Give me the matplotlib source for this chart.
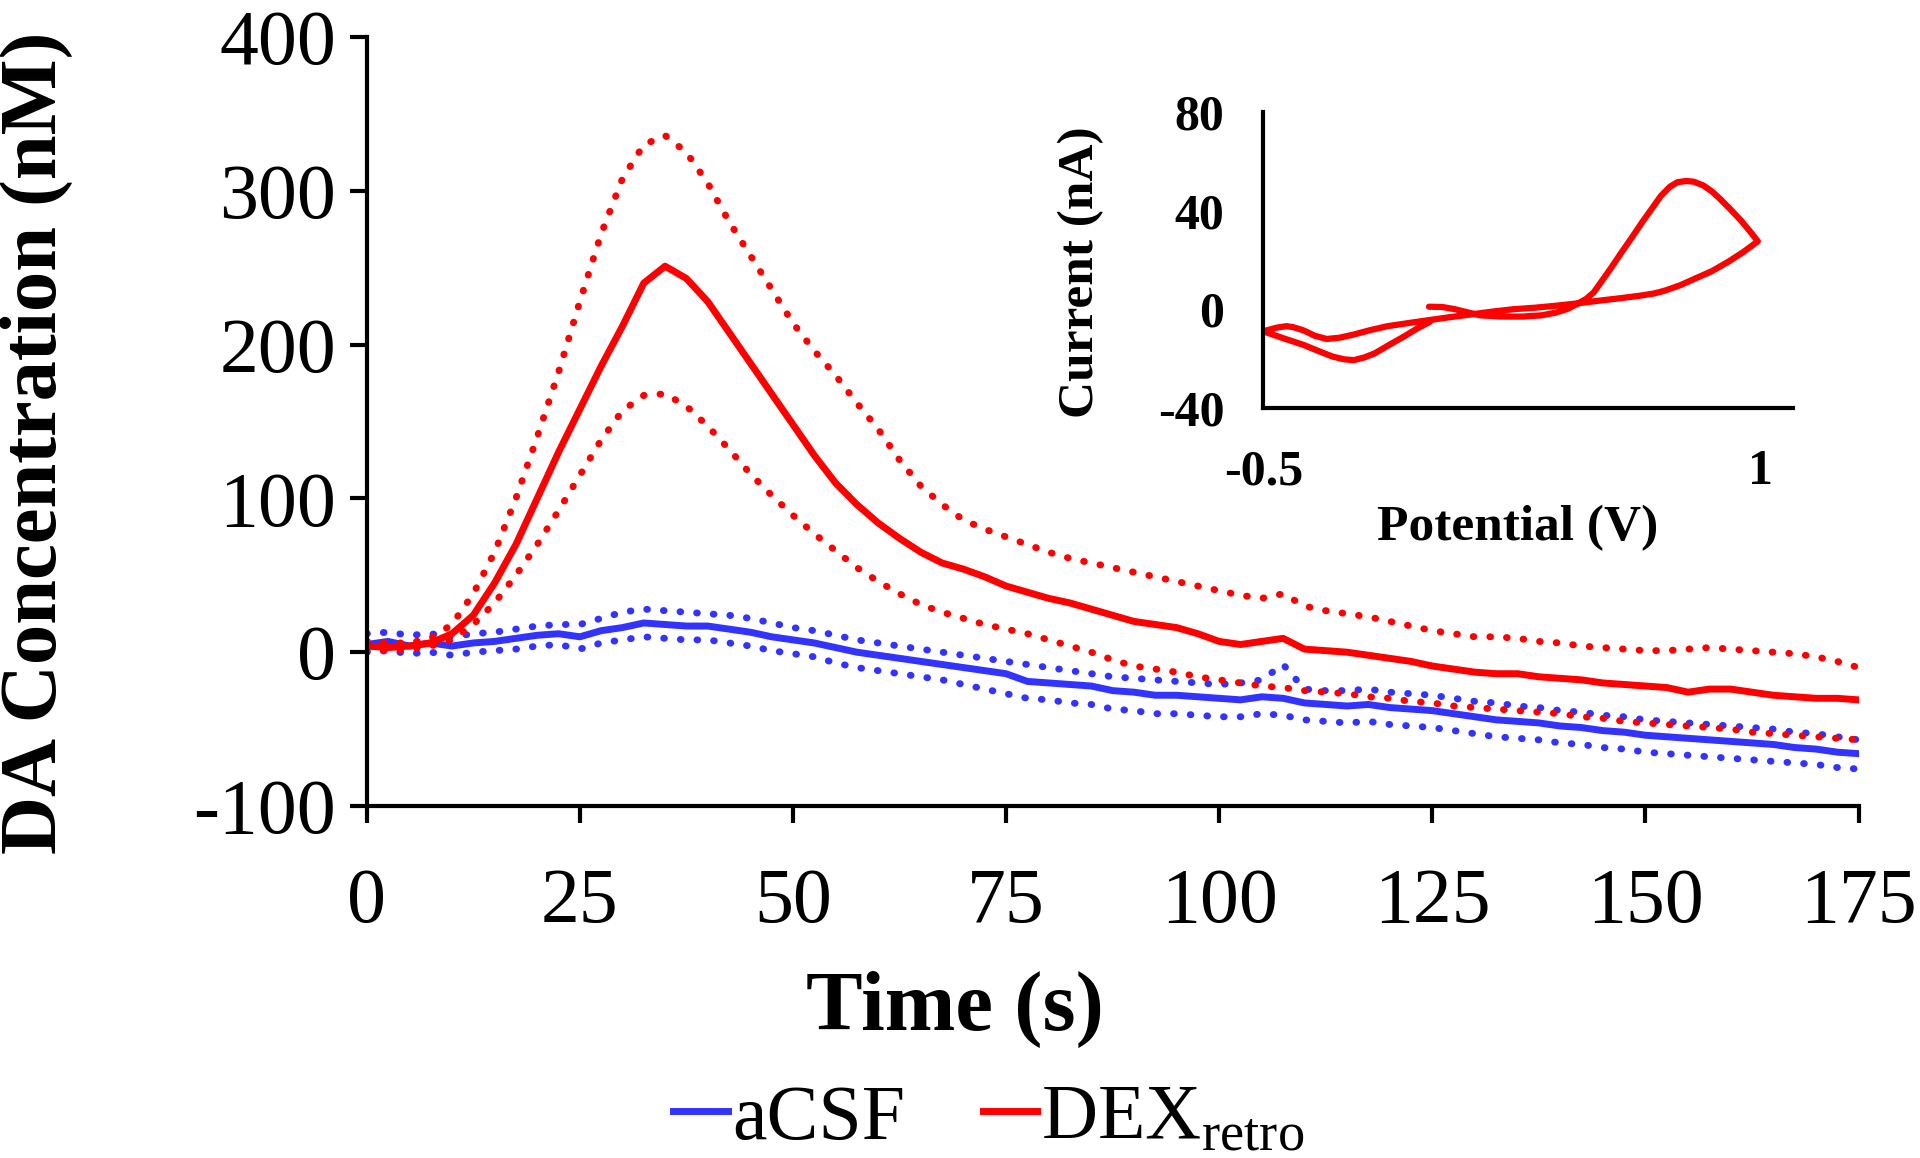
import matplotlib.pyplot as plt
import numpy as np

plt.rcParams['font.family'] = 'Liberation Serif'
plt.rcParams['mathtext.fontset'] = 'custom'
plt.rcParams['mathtext.rm'] = 'Liberation Serif'
plt.rcParams['axes.unicode_minus'] = False

# tempo (s), amostrado a cada 2.5 s
tempo = np.arange(0, 175.1, 2.5)

# DEX retro: media e +/- erro
dex_media = [4, 3, 4, 6, 12, 24, 45, 70, 100, 130, 158, 186, 212, 240, 251, 243, 228, 208, 188, 168,
             148, 128, 110, 96, 84, 74, 65, 58, 54, 49, 43, 39, 35, 32, 28, 24, 20, 18, 16, 12,
             7, 5, 7, 9, 2, 1, 0, -2, -4, -6, -9, -11, -13, -14, -14, -16, -17, -18, -20, -21,
             -22, -23, -26, -24, -24, -26, -28, -29, -30, -30, -31]
dex_sup = [7, 6, 6, 9, 18, 38, 65, 100, 140, 182, 228, 272, 308, 330, 336, 325, 305, 280, 258, 236,
           214, 196, 180, 162, 145, 125, 108, 96, 86, 80, 75, 70, 65, 61, 58, 55, 52, 49, 46, 43,
           40, 37, 35, 38, 30, 27, 25, 23, 20, 17, 14, 12, 10, 10, 9, 7, 6, 4, 3, 2,
           1, 1, 2, 3, 2, 1, 0, -1, -3, -6, -10]
dex_inf = [2, 1, 2, 4, 8, 18, 32, 50, 70, 92, 115, 138, 157, 167, 168, 160, 147, 132, 116, 102,
           89, 77, 66, 55, 46, 38, 31, 26, 22, 18, 15, 12, 8, 4, 0, -5, -9, -11, -13, -16,
           -18, -20, -22, -23, -25, -26, -27, -29, -30, -32, -33, -35, -36, -37, -38, -39, -40, -42, -43, -45,
           -46, -47, -48, -49, -50, -52, -53, -54, -55, -56, -57]

# aCSF: media e +/- erro
acsf_media = [5, 7, 4, 6, 4, 6, 7, 9, 11, 12, 10, 14, 16, 19, 18, 17, 17, 15, 13, 10,
              8, 6, 3, 0, -2, -4, -6, -8, -10, -12, -14, -19, -20, -21, -22, -25, -26, -28, -28, -29,
              -30, -31, -29, -30, -33, -34, -35, -34, -36, -37, -38, -40, -42, -44, -45, -46, -48, -49, -51, -52,
              -54, -55, -56, -57, -58, -59, -60, -62, -63, -65, -66]
acsf_sup = [12, 13, 11, 12, 10, 12, 13, 15, 17, 18, 18, 22, 26, 28, 27, 26, 25, 24, 22, 19,
            16, 14, 11, 8, 6, 4, 2, 0, -2, -4, -6, -8, -10, -12, -14, -16, -17, -18, -19, -20,
            -21, -20, -18, -8, -24, -25, -25, -24, -26, -27, -28, -30, -32, -33, -35, -36, -38, -39, -41, -42,
            -44, -45, -46, -47, -48, -49, -50, -52, -53, -55, -57]
acsf_inf = [0, 1, -1, 0, -2, 0, 1, 2, 4, 5, 2, 6, 8, 10, 9, 8, 8, 6, 4, 1,
            -1, -3, -7, -10, -12, -14, -16, -18, -21, -24, -27, -30, -31, -33, -34, -37, -38, -40, -40, -41,
            -42, -42, -40, -41, -44, -45, -46, -45, -47, -48, -49, -51, -53, -55, -56, -57, -59, -60, -62, -63,
            -65, -66, -67, -68, -69, -70, -71, -72, -73, -75, -76]

# voltamograma do detalhe: potencial (V) e corrente (nA)
potencial = [0.0, 0.04, 0.078, 0.12, 0.155, 0.22, 0.282, 0.34, 0.383, 0.42, 0.447, 0.475, 0.498,
             0.549, 0.58, 0.612, 0.645, 0.676, 0.70, 0.727, 0.75, 0.777, 0.80, 0.828, 0.855,
             0.879, 0.91, 0.943, 0.97, 0.993, 0.95, 0.904, 0.855, 0.803, 0.76, 0.714, 0.68, 0.638,
             0.58, 0.510, 0.45, 0.383, 0.32, 0.256, 0.19, 0.129, 0.06, 0.002,
             -0.06, -0.125, -0.18, -0.227, -0.27, -0.309, -0.345, -0.379, -0.41, -0.430, -0.46, -0.5,
             -0.44, -0.379, -0.33, -0.290, -0.255, -0.227, -0.195, -0.163, -0.12, -0.074, -0.035, 0.002]
corrente = [1.0, 0.9, 0.0, -1.4, -2.5, -3.0, -3.0, -2.5, -1.4, 0.2, 2.1, 4.2, 6.9,
            16.6, 22.8, 29.0, 35.6, 41.4, 46.0, 49.7, 51.6, 52.1, 51.8, 50.3, 47.8,
            44.8, 40.6, 35.9, 31.5, 27.6, 23.3, 19.3, 15.5, 12.4, 9.8, 7.6, 6.4, 5.5,
            4.5, 3.4, 2.4, 1.4, 0.6, 0.0, -1.0, -2.1, -3.3, -4.4,
            -5.6, -6.9, -8.6, -10.3, -11.6, -12.1, -10.8, -8.6, -7.3, -6.9, -7.5, -9.0,
            -11.8, -14.5, -17.2, -19.3, -20.4, -20.7, -19.6, -17.9, -14.5, -11.0, -7.8, -5.2]

azul = '#3333ff'
vermelho = '#ff0000'
pontilhado = (0, (0.1, 2.3))

fig = plt.figure(figsize=(19.2, 11.58), dpi=100)
ax = fig.add_axes([0.191, 0.304, 0.777, 0.664])

ax.plot(tempo, acsf_sup, color=azul, lw=5, linestyle=pontilhado, dash_capstyle='round')
ax.plot(tempo, acsf_inf, color=azul, lw=5, linestyle=pontilhado, dash_capstyle='round')
l1, = ax.plot(tempo, acsf_media, color=azul, lw=5, label='aCSF', solid_joinstyle='round')
ax.plot(tempo, dex_sup, color=vermelho, lw=5, linestyle=pontilhado, dash_capstyle='round')
ax.plot(tempo, dex_inf, color=vermelho, lw=5, linestyle=pontilhado, dash_capstyle='round')
l2, = ax.plot(tempo, dex_media, color=vermelho, lw=5, label=r'DEX$_{\mathrm{retro}}$',
              solid_joinstyle='round')

ax.set_xlim(0, 175)
ax.set_ylim(-100, 400)
ax.set_xticks(range(0, 176, 25))
ax.set_yticks(range(-100, 401, 100))
for s in ['top', 'right']:
    ax.spines[s].set_visible(False)
for s in ['left', 'bottom']:
    ax.spines[s].set_linewidth(3)
ax.tick_params(axis='both', direction='out', length=12, width=3, labelsize=56)
ax.tick_params(axis='x', pad=32)
ax.tick_params(axis='y', pad=10)
ax.set_xlabel('Time (s)', fontsize=61, fontweight='bold')
ax.set_ylabel('DA Concentration (nM)', fontsize=58, fontweight='bold')
ax.xaxis.set_label_coords(0.394, -0.215)
ax.yaxis.set_label_coords(-0.197, 0.472)

fig.legend(handles=[l1, l2], loc='center', bbox_to_anchor=(0.515, 0.033), ncol=2, frameon=False,
           fontsize=56, handlelength=0.7, handletextpad=0.05, columnspacing=1.0)

# detalhe
axi = fig.add_axes([0.658, 0.648, 0.276, 0.255])
axi.plot(potencial, corrente, color=vermelho, lw=4.5, solid_joinstyle='round', solid_capstyle='round')
axi.set_xlim(-0.5, 1.1)
axi.set_ylim(-40, 80)
axi.set_xticks([-0.5, 1])
axi.set_xticklabels(['-0.5', '1'])
axi.set_yticks([-40, 0, 40, 80])
for s in ['top', 'right']:
    axi.spines[s].set_visible(False)
for s in ['left', 'bottom']:
    axi.spines[s].set_linewidth(3)
axi.tick_params(axis='both', length=0, labelsize=36)
axi.tick_params(axis='x', pad=30)
axi.tick_params(axis='y', pad=28)
for lab in axi.get_xticklabels() + axi.get_yticklabels():
    lab.set_fontweight('bold')
axi.set_xlabel('Potential (V)', fontsize=37, fontweight='bold')
axi.set_ylabel('Current (nA)', fontsize=37, fontweight='bold')
axi.xaxis.set_label_coords(0.48, -0.33)
axi.yaxis.set_label_coords(-0.30, 0.46)

fig.savefig('out.png', dpi=100)
